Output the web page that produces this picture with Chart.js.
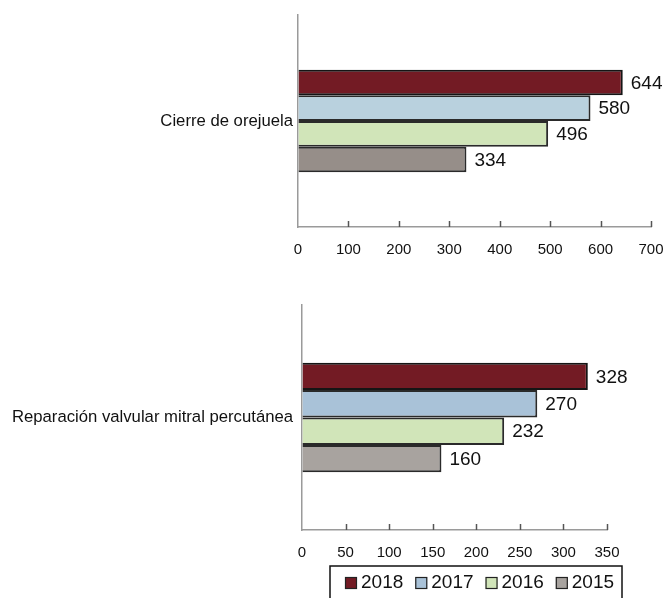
<!DOCTYPE html>
<html>
<head>
<meta charset="utf-8">
<script src="https://cdn.jsdelivr.net/npm/chart.js@4"></script>
<style>
  html, body { margin: 0; padding: 0; background: #fff; }
  body { width: 669px; height: 598px; position: relative; overflow: hidden; }
  #topWrap { position: absolute; left: 0; top: 0; width: 669px; height: 280px; }
  #botWrap { position: absolute; left: 0; top: 280px; width: 669px; height: 318px; }
</style>
</head>
<body>
<div id="topWrap"><canvas id="cTop" width="669" height="280"></canvas></div>
<div id="botWrap"><canvas id="cBot" width="669" height="318"></canvas></div>
<script>
// ---- data ----
const categoriesTop = ['Cierre de orejuela'];
const categoriesBottom = ['Reparación valvular mitral percutánea'];
const years = ['2018', '2017', '2016', '2015'];
const valuesTop = [644, 580, 496, 334];
const valuesBottom = [328, 270, 232, 160];
const xTicksTop = [0, 100, 200, 300, 400, 500, 600, 700];
const xTicksBottom = [0, 50, 100, 150, 200, 250, 300, 350];

// ---- styles ----
const colorsTop = ['#731B24', '#B9D1DE', '#D1E5B9', '#968E89'];
const colorsBottom = ['#731B24', '#A9C2D8', '#D1E5B9', '#A8A39F'];
const borderColors = ['#151515', '#2a2a2a', '#2a2a2a', '#2a2a2a'];
const FONT = '"Liberation Sans", Arial, Helvetica, sans-serif';

const tickMarks = {
  id: 'tickMarks',
  afterDraw(chart) {
    const s = chart.scales.x, ctx = chart.ctx, b = chart.chartArea.bottom;
    ctx.save();
    ctx.strokeStyle = '#555';
    ctx.lineWidth = 1.5;
    s.ticks.forEach((t, i) => {
      if (i === 0) return;
      const px = Math.round(s.getPixelForTick(i)) + 0.5;
      ctx.beginPath();
      ctx.moveTo(px, b);
      ctx.lineTo(px, b - 6);
      ctx.stroke();
    });
    ctx.restore();
  }
};

const valueLabels = {
  id: 'valueLabels',
  afterDatasetsDraw(chart) {
    const ctx = chart.ctx;
    ctx.save();
    ctx.font = '19px ' + FONT;
    ctx.fillStyle = '#111';
    ctx.textBaseline = 'middle';
    ctx.textAlign = 'left';
    chart.data.datasets.forEach((ds, di) => {
      chart.getDatasetMeta(di).data.forEach((el, i) => {
        ctx.fillText(String(ds.data[i]), el.x + 8, el.y + 1);
      });
    });
    ctx.restore();
  }
};

const boxLegend = {
  id: 'boxLegend',
  afterDraw(chart, args, opts) {
    if (!opts || !opts.show) return;
    const ctx = chart.ctx;
    const left = opts.left, top = opts.top, right = opts.right;
    ctx.save();
    ctx.strokeStyle = '#111';
    ctx.lineWidth = 1.5;
    ctx.strokeRect(left, top, right - left, 60);
    ctx.font = '19px ' + FONT;
    ctx.textBaseline = 'alphabetic';
    let x = left + 15;
    const base = top + 22;
    chart.data.datasets.forEach((ds) => {
      ctx.fillStyle = ds.backgroundColor;
      ctx.fillRect(x, base - 11, 12, 12);
      ctx.strokeStyle = '#222';
      ctx.lineWidth = 1.2;
      ctx.strokeRect(x + 0.5, base - 11 + 0.5, 11, 11);
      ctx.fillStyle = '#111';
      ctx.fillText(ds.label, x + 16, base);
      x += 16 + ctx.measureText(ds.label).width + 12;
    });
    ctx.restore();
  }
};

function makeChart(canvasId, cats, values, colors, ticks, cfg) {
  const datasets = years.map((y, i) => ({
    label: y,
    data: [values[i]],
    backgroundColor: colors[i],
    borderColor: borderColors[i],
    borderWidth: 2,
    barPercentage: 1,
    categoryPercentage: cfg.catPct
  }));
  return new Chart(document.getElementById(canvasId), {
    type: 'bar',
    data: { labels: cats, datasets },
    options: {
      indexAxis: 'y',
      responsive: false,
      animation: false,
      devicePixelRatio: 1,
      layout: { padding: { top: cfg.padTop, right: cfg.padRight, left: 0, bottom: 0 } },
      plugins: {
        legend: { display: false },
        tooltip: { enabled: false },
        boxLegend: cfg.legend || { show: false }
      },
      scales: {
        x: {
          type: 'linear',
          min: ticks[0],
          max: ticks[ticks.length - 1],
          afterBuildTicks(scale) { scale.ticks = ticks.map(v => ({ value: v })); },
          ticks: { font: { size: 15, family: FONT }, color: '#111', padding: 14, maxRotation: 0, autoSkip: false },
          grid: { drawOnChartArea: false, drawTicks: false },
          border: { color: '#9a9a9a', width: 1.5 },
          afterFit(scale) {
            scale.height = cfg.xHeight;
            scale.paddingLeft = 0;
            scale.paddingRight = 0;
          }
        },
        y: {
          ticks: { font: { size: 16.7, family: FONT }, color: '#111', padding: cfg.yPad },
          grid: { drawOnChartArea: false, drawTicks: false },
          border: { color: '#9a9a9a', width: 1.5 },
          afterFit(scale) { scale.width = cfg.yWidth; }
        }
      }
    },
    plugins: [tickMarks, valueLabels, boxLegend]
  });
}

Chart.defaults.font.family = FONT;

makeChart('cTop', categoriesTop, valuesTop, colorsTop, xTicksTop, {
  catPct: 0.484, padTop: 14, padRight: 18, xHeight: 280 - 227, yWidth: 298, yPad: 5
});

makeChart('cBot', categoriesBottom, valuesBottom, colorsBottom, xTicksBottom, {
  catPct: 0.487, padTop: 25, padRight: 62, xHeight: 318 - 250, yWidth: 302, yPad: 9,
  legend: { show: true, left: 330, top: 286, right: 622 }
});
</script>
</body>
</html>
